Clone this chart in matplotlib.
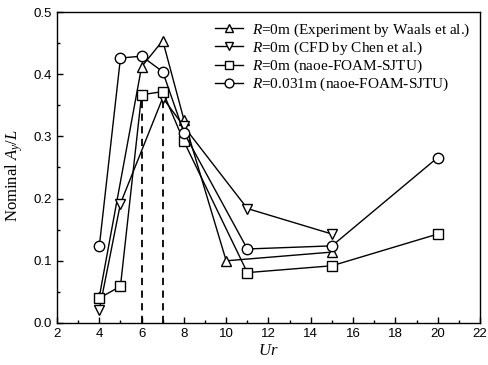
import matplotlib
matplotlib.use("Agg")
import matplotlib.pyplot as plt
from matplotlib.ticker import MultipleLocator

plt.rcParams['font.family'] = ['Liberation Sans', 'DejaVu Sans']
plt.rcParams['mathtext.fontset'] = 'custom'
plt.rcParams['mathtext.rm'] = 'Liberation Serif'
plt.rcParams['mathtext.it'] = 'Liberation Serif:italic'

# Data
exp_x = [4, 6, 7, 8, 10, 15]
exp_y = [0.042, 0.412, 0.454, 0.327, 0.100, 0.114]

cfd_x = [4, 5, 7, 8, 11, 15]
cfd_y = [0.021, 0.192, 0.362, 0.316, 0.184, 0.143]

sq_x = [4, 5, 6, 7, 8, 11, 15, 20]
sq_y = [0.040, 0.059, 0.367, 0.372, 0.292, 0.081, 0.092, 0.143]

ci_x = [4, 5, 6, 7, 8, 11, 15, 20]
ci_y = [0.123, 0.426, 0.429, 0.404, 0.306, 0.119, 0.124, 0.266]

labels = [r"$R$=0m (Experiment by Waals et al.)",
          r"$R$=0m (CFD by Chen et al.)",
          r"$R$=0m (naoe-FOAM-SJTU)",
          r"$R$=0.031m (naoe-FOAM-SJTU)"]

dash_x = [6, 7]

fig = plt.figure(figsize=(4.88, 3.65), dpi=100)
ax = fig.add_axes([0.1168, 0.1151, 0.8668, 0.852])

ms = 7.5
kw = dict(color='black', lw=1.0, mfc='white', mec='black', mew=1.0, ms=ms)

# dashed lines at x = 6, 7 up to the square values
for xv in dash_x:
    yv = sq_y[sq_x.index(xv)]
    ax.plot([xv, xv], [0, yv], color='black', ls=(0, (4, 3)), lw=1.3, zorder=1)

ax.plot(exp_x, exp_y, marker='^', label=labels[0], **kw)
ax.plot(cfd_x, cfd_y, marker='v', label=labels[1], **kw)
ax.plot(sq_x, sq_y, marker='s', label=labels[2], **dict(kw, ms=6.5))
ax.plot(ci_x, ci_y, marker='o', label=labels[3], **kw)

ax.set_xlim(2, 22)
ax.set_ylim(0, 0.5)
ax.xaxis.set_major_locator(MultipleLocator(2))
ax.xaxis.set_minor_locator(MultipleLocator(1))
ax.yaxis.set_major_locator(MultipleLocator(0.1))
ax.yaxis.set_minor_locator(MultipleLocator(0.05))
ax.set_yticklabels([f"{v:.1f}" for v in ax.get_yticks()])
ax.tick_params(which='both', direction='in', top=False, right=False, labelsize=9.5)
ax.tick_params(which='major', length=4.5, width=1)
ax.tick_params(which='minor', length=2.5, width=1)
for s in ax.spines.values():
    s.set_linewidth(1.0)

ax.set_xlabel(r"$Ur$", fontsize=12, labelpad=2)
ax.set_ylabel(r"$\mathrm{Nominal}\ A_y/L$", fontsize=12)
ax.yaxis.set_label_coords(-0.076, 0.473)

leg = ax.legend(loc='upper left', bbox_to_anchor=(0.36, 0.99), frameon=False,
                prop={'family': 'Liberation Serif', 'size': 11}, handlelength=1.8,
                handletextpad=0.6, labelspacing=0.06, borderaxespad=0,
                markerscale=0.85)

fig.savefig("out.png", dpi=100)
